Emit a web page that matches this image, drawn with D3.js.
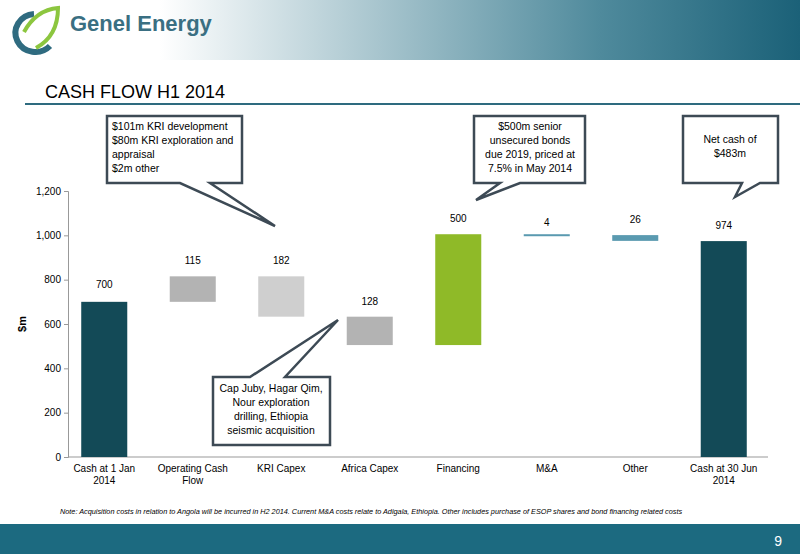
<!DOCTYPE html><html><head><meta charset="utf-8">
<script src="https://cdn.jsdelivr.net/npm/d3@7"></script>
<style>body{margin:0;background:#fff}svg{font-family:"Liberation Sans",Arial,sans-serif}</style></head><body>
<svg id="c" width="800" height="554"></svg>
<script>
const categories=["Cash at 1 Jan\n2014","Operating Cash\nFlow","KRI Capex","Africa Capex","Financing","M&A","Other","Cash at 30 Jun\n2014"];
const deltas=[700,115,-182,-128,500,-4,-26,974];
const labels=["700","115","182","128","500","4","26","974"];
const colors=["#134a57","#b3b3b3","#cfcfcf","#b3b3b3","#8fba28","#5a9ab0","#5a9ab0","#134a57"];
const yTicks=[0,200,400,600,800,1000,1200];
const svg=d3.select("#c");
const defs=svg.append("defs");
const g=defs.append("linearGradient").attr("id","hg");
g.append("stop").attr("offset","0.2").attr("stop-color","#ffffff");
g.append("stop").attr("offset","0.75").attr("stop-color","#4f8a9c");
g.append("stop").attr("offset","1").attr("stop-color","#1b6178");
svg.append("rect").attr("width",800).attr("height",60).attr("fill","url(#hg)");
svg.append("path").attr("d","M34,14 A20,19 0 1 0 50,46").attr("fill","none").attr("stroke","#2f6b80").attr("stroke-width",6);
svg.append("path").attr("d","M24,32 Q36,10 58,8 Q58,36 36,48").attr("fill","none").attr("stroke","#8cc63f").attr("stroke-width",4);
svg.append("text").attr("x",70).attr("y",31).attr("font-size",22).attr("font-weight","bold").attr("fill","#3a6f82").text("Genel Energy");
svg.append("text").attr("x",45).attr("y",98).attr("font-size",18).text("CASH FLOW H1 2014");
svg.append("line").attr("x1",25).attr("x2",800).attr("y1",104).attr("y2",104).attr("stroke","#2e6b7f").attr("stroke-width",2);
const x=d3.scaleBand().domain(d3.range(categories.length)).range([60,768]).paddingInner(0.48).paddingOuter(0.24);
const y=d3.scaleLinear().domain([0,1200]).range([457,191]);
let run=0;const bars=deltas.map((d,i)=>{let lo,hi;if(i==0||i==deltas.length-1){lo=0;hi=d;run=d;}else{const a=run;run+=d;lo=Math.min(a,run);hi=Math.max(a,run);}return{i,lo,hi};});
svg.append("g").attr("transform","translate(68,0)").call(d3.axisLeft(y).tickValues(yTicks).tickFormat(d3.format(",")).tickSize(4)).call(a=>{a.selectAll("text").attr("font-size",10).attr("fill","#000");a.selectAll("line,path").attr("stroke","#999");});
svg.append("line").attr("x1",68).attr("x2",768).attr("y1",y(0)).attr("y2",y(0)).attr("stroke","#999");
svg.append("text").attr("transform","translate(26,324) rotate(-90)").attr("text-anchor","middle").attr("font-size",11).attr("font-weight","bold").text("$m");
svg.selectAll(".b").data(bars).join("rect").attr("x",d=>x(d.i)).attr("width",x.bandwidth()).attr("y",d=>y(d.hi)).attr("height",d=>Math.max(2,y(d.lo)-y(d.hi))).attr("fill",d=>colors[d.i]);
svg.selectAll(".l").data(bars).join("text").attr("x",d=>x(d.i)+x.bandwidth()/2).attr("y",d=>y(d.hi)-(d.i==0?14:d.i==5?8:12)).attr("text-anchor","middle").attr("font-size",10).text(d=>labels[d.i]);
categories.forEach((c,i)=>{const t=svg.append("text").attr("x",x(i)+x.bandwidth()/2).attr("y",472).attr("text-anchor","middle").attr("font-size",10);c.split("\n").forEach((s,k)=>t.append("tspan").attr("x",x(i)+x.bandwidth()/2).attr("dy",k?12:0).text(s));});
function callout(path,lines,tx,ty,anchor){svg.append("path").attr("d",path).attr("fill","#fff").attr("stroke","#3d4a55").attr("stroke-width",2.5).attr("stroke-linejoin","miter");const t=svg.append("text").attr("font-size",10.5).attr("text-anchor",anchor);lines.forEach((s,k)=>t.append("tspan").attr("x",tx).attr("y",ty+k*14).text(s));}
callout("M107,116H242V183H210L275,226L180,183H107Z",["$101m KRI development","$80m KRI exploration and","appraisal","$2m other"],112,130,"start");
callout("M474,116H585V183H520L476,200L500,183H474Z",["$500m senior","unsecured bonds","due 2019, priced at","7.5% in May 2014"],530,130,"middle");
callout("M683,116H778V183H760L735,197L742,183H683Z",["Net cash of","$483m"],730,143,"middle");
callout("M213,377H250L338,320L285,377H330V445H213Z",["Cap Juby, Hagar Qim,","Nour exploration","drilling, Ethiopia","seismic acquisition"],271,392,"middle");
svg.append("text").attr("x",60).attr("y",514).attr("font-size",7.3).attr("font-style","italic").text("Note: Acquisition costs in relation to Angola will be incurred in H2 2014. Current M&A costs relate to Adigala, Ethiopia. Other includes purchase of ESOP shares and bond financing related costs");
svg.append("rect").attr("y",524).attr("width",800).attr("height",30).attr("fill","#1c6a80");
svg.append("text").attr("x",782).attr("y",546).attr("font-size",14).attr("fill","#fff").attr("text-anchor","end").text("9");
</script></body></html>
